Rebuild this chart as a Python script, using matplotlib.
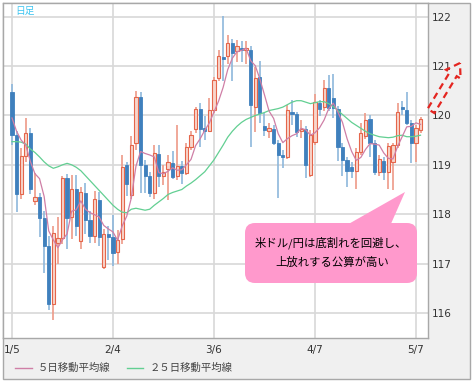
import matplotlib
matplotlib.use("Agg")
import matplotlib.pyplot as plt
import numpy as np
from matplotlib.patches import Rectangle, FancyBboxPatch, Polygon, FancyArrow

# USD/JPY daily, 2015-01-05 .. 2015-05-08
tick_pos = [0, 22, 44, 66, 88]
tick_labels = ["1/5", "2/4", "3/6", "4/7", "5/7"]
price_ticks = [116, 117, 118, 119, 120, 121, 122]

opens = [120.48, 119.61, 118.40, 119.17, 119.65, 118.26, 118.34, 117.92, 117.35, 116.18,
         117.42, 117.52, 118.74, 117.95, 118.50, 117.45, 118.42, 117.88, 117.55, 118.28,
         116.92, 117.60, 117.53, 117.24, 117.49, 119.00, 118.39, 119.44, 120.38, 119.00,
         118.78, 118.42, 119.22, 118.77, 118.91, 119.03, 118.77, 118.98, 118.84, 119.37,
         119.72, 120.13, 119.74, 119.68, 120.11, 120.76, 121.17, 121.20, 121.47, 121.30,
         121.37, 121.32, 121.33, 120.18, 120.77, 119.78, 119.69, 119.72, 119.45, 119.20,
         119.15, 120.08, 120.03, 119.69, 119.73, 118.80, 119.47, 120.25, 120.18, 120.55,
         120.35, 120.13, 119.37, 119.10, 118.95, 118.88, 119.27, 119.58, 119.92, 119.45,
         118.85, 119.08, 118.85, 119.05, 119.40, 120.18, 120.11, 119.85, 119.44, 119.71]
highs = [120.63, 119.68, 119.35, 119.95, 119.75, 118.83, 118.42, 118.06, 117.55, 117.75,
         117.95, 118.78, 118.82, 118.80, 118.80, 118.55, 118.63, 118.06, 118.46, 118.45,
         117.70, 117.75, 117.98, 117.68, 119.20, 119.05, 119.59, 120.49, 120.48, 119.10,
         118.85, 119.40, 119.40, 119.00, 119.20, 119.28, 119.81, 119.07, 119.45, 119.68,
         120.18, 120.25, 119.98, 120.35, 120.79, 121.33, 122.02, 121.63, 121.55, 121.52,
         121.50, 121.50, 121.40, 120.99, 121.10, 120.05, 119.85, 119.80, 119.50, 119.30,
         120.21, 120.32, 120.08, 119.90, 119.78, 119.70, 120.44, 120.32, 120.72, 120.82,
         120.84, 120.20, 119.45, 119.15, 119.05, 119.35, 119.84, 120.05, 120.00, 119.50,
         119.20, 119.15, 119.45, 119.45, 120.25, 120.30, 120.48, 119.90, 119.80, 119.97]
lows = [119.41, 118.05, 118.30, 119.05, 118.40, 118.19, 117.54, 116.80, 116.05, 115.85,
        116.98, 117.40, 117.30, 117.50, 117.55, 117.30, 117.60, 117.41, 117.42, 117.35,
        116.88, 117.07, 116.95, 117.00, 117.40, 118.36, 118.30, 119.30, 118.42, 118.42,
        118.35, 118.30, 118.55, 118.60, 118.29, 118.72, 118.70, 118.61, 118.80, 119.30,
        119.65, 119.37, 119.50, 119.67, 120.05, 120.70, 120.69, 121.05, 120.70, 121.09,
        121.09, 121.05, 119.37, 119.67, 119.85, 119.58, 119.55, 119.40, 118.32, 118.93,
        119.12, 119.80, 119.57, 119.55, 118.73, 118.75, 119.40, 119.98, 120.10, 120.10,
        119.95, 119.08, 118.78, 118.56, 118.73, 118.52, 119.20, 119.52, 119.15, 118.80,
        118.78, 118.70, 118.52, 118.48, 119.35, 120.00, 119.80, 119.03, 119.06, 119.65]
closes = [119.61, 118.40, 119.17, 119.65, 118.52, 118.34, 117.92, 117.35, 116.18, 117.62,
          117.52, 118.74, 117.92, 118.50, 117.75, 118.45, 117.88, 117.55, 118.30, 117.53,
          117.60, 117.53, 117.22, 117.48, 118.96, 118.61, 119.40, 120.38, 119.00, 118.78,
          118.42, 119.24, 118.78, 118.86, 119.05, 118.76, 118.98, 118.84, 119.37, 119.61,
          120.13, 119.72, 119.69, 120.11, 120.71, 121.20, 121.14, 121.47, 121.26, 121.40,
          121.32, 121.35, 120.22, 120.76, 120.05, 119.70, 119.74, 119.45, 119.20, 119.15,
          120.11, 120.03, 119.67, 119.72, 119.00, 119.60, 120.28, 120.13, 120.55, 120.15,
          120.15, 119.37, 119.10, 118.87, 118.88, 119.25, 119.65, 119.91, 119.45, 118.85,
          119.12, 118.86, 119.38, 119.40, 120.08, 120.13, 119.84, 119.44, 119.75, 119.92]
ma5 = [119.95, 119.68, 119.50, 119.40, 119.07, 118.82, 118.72, 118.36, 117.66, 117.48,
       117.32, 117.48, 117.60, 118.06, 118.09, 118.27, 118.10, 118.03, 117.99, 117.94,
       117.77, 117.70, 117.64, 117.47, 117.76, 117.96, 118.33, 118.97, 119.27, 119.23,
       119.20, 119.16, 118.84, 118.82, 118.87, 118.94, 118.89, 118.90, 119.00, 119.11,
       119.39, 119.53, 119.70, 119.85, 120.07, 120.29, 120.57, 120.93, 121.16, 121.29,
       121.32, 121.36, 121.11, 121.01, 120.74, 120.42, 120.09, 119.94, 119.63, 119.45,
       119.53, 119.59, 119.63, 119.74, 119.71, 119.60, 119.65, 119.75, 119.91, 120.14,
       120.25, 120.07, 119.86, 119.53, 119.27, 119.09, 119.15, 119.31, 119.43, 119.42,
       119.40, 119.24, 119.13, 119.12, 119.37, 119.57, 119.77, 119.78, 119.85, 119.82]
ma25 = [119.47, 119.47, 119.46, 119.42, 119.32, 119.25, 119.16, 119.06, 118.98, 118.93,
        118.96, 119.00, 119.03, 119.00, 118.95, 118.88, 118.78, 118.68, 118.58, 118.48,
        118.38, 118.28, 118.18, 118.10, 118.04, 118.03, 118.10, 118.12, 118.10, 118.08,
        118.10, 118.18, 118.25, 118.32, 118.40, 118.44, 118.47, 118.50, 118.57, 118.63,
        118.70, 118.78, 118.86, 118.98, 119.10, 119.25, 119.40, 119.56, 119.68, 119.78,
        119.86, 119.92, 119.96, 120.00, 120.03, 120.06, 120.10, 120.12, 120.14, 120.17,
        120.22, 120.27, 120.30, 120.30, 120.27, 120.24, 120.26, 120.28, 120.28, 120.24,
        120.18, 120.10, 120.02, 119.94, 119.86, 119.80, 119.74, 119.68, 119.63, 119.60,
        119.57, 119.56, 119.55, 119.56, 119.59, 119.60, 119.57, 119.57, 119.58, 119.60]

jp = ["Noto Sans CJK JP", "DejaVu Sans"]

fig = plt.figure(figsize=(4.73, 3.85), dpi=100)
fig.patch.set_facecolor("white")

# grey panel behind everything
bg = fig.add_axes([0, 0, 1, 1], zorder=0)
bg.set_xlim(0, 473)
bg.set_ylim(385, 0)
bg.axis("off")
bg.add_patch(Rectangle((2.5, 2.5), 467, 376, facecolor="#f0f0f0", edgecolor="#a8a8a8", lw=1))

ax = fig.add_axes([3 / 473, 47 / 385, 425 / 473, 335 / 385], zorder=1)
ax.set_facecolor("white")

x = np.arange(len(closes))
o = np.array(opens)
c = np.array(closes)
up = c >= o

ax.vlines(x[up], np.array(lows)[up], np.array(highs)[up], color="#ee9a88", lw=1.2, zorder=2)
ax.vlines(x[~up], np.array(lows)[~up], np.array(highs)[~up], color="#8db7dc", lw=1.2, zorder=2)

body_lo = np.minimum(o, c)
body_h = np.maximum(np.abs(c - o), 0.04)
ax.bar(x[up], body_h[up], bottom=body_lo[up], width=0.7, facecolor="#f8d6cc",
       edgecolor="#e5664b", lw=0.8, zorder=2.5)
ax.bar(x[~up], body_h[~up], bottom=body_lo[~up], width=0.7, facecolor="#3f80bd",
       edgecolor="#3f80bd", lw=0.6, zorder=2.5)

ax.plot(x, ma25, color="#62cf92", lw=0.9, zorder=3)
ax.plot(x, ma5, color="#cf7fa6", lw=0.9, zorder=3)

ax.set_xlim(-1.96, 90.63)
ax.set_ylim(115.49, 122.28)
ax.set_xticks(tick_pos)
ax.set_xticklabels(tick_labels)
ax.set_yticks(price_ticks)
ax.yaxis.tick_right()
ax.tick_params(length=0, labelsize=7.5, labelcolor="#333333")
ax.tick_params(axis="x", pad=5)
ax.tick_params(axis="y", pad=2.5)
ax.grid(color="#d8d8d8", lw=1.2)
ax.set_axisbelow(True)
for s in ax.spines.values():
    s.set_color("#a8a8a8")
    s.set_linewidth(1)

# annotations drawn in pixel coords
fg = fig.add_axes([0, 0, 1, 1], zorder=5)
fg.set_xlim(0, 473)
fg.set_ylim(385, 0)
fg.axis("off")
fg.patch.set_alpha(0)

fg.text(15, 11, "日足", color="#3cc4f0", fontsize=7, va="center", family=jp)

fg.add_patch(FancyBboxPatch((252, 230), 158, 46, boxstyle="round,pad=7,rounding_size=10",
                            facecolor="#ff99cc", edgecolor="none"))
fg.add_patch(Polygon([(345, 226), (405, 192), (390, 226)], closed=True,
                     facecolor="#ff99cc", edgecolor="none"))
fg.text(331, 243, "米ドル/円は底割れを回避し、", ha="center", va="center",
        fontsize=8.2, color="black", family=jp)
fg.text(332, 262, "上放れする公算が高い", ha="center", va="center",
        fontsize=8.2, color="black", family=jp)

fg.add_patch(FancyArrow(431, 111, 29, -48, width=8, head_width=17, head_length=13,
                        length_includes_head=True, fill=False, edgecolor="#e42520",
                        lw=1.6, ls=(0, (3, 2))))

fg.plot([15, 32], [368, 368], color="#cf7fa6", lw=1)
fg.text(38, 368, "５日移動平均線", va="center", fontsize=7.5, color="#444444", family=jp)
fg.plot([127, 143], [368, 368], color="#62cf92", lw=1)
fg.text(150, 368, "２５日移動平均線", va="center", fontsize=7.5, color="#444444", family=jp)

fig.savefig("out.png", dpi=100)
